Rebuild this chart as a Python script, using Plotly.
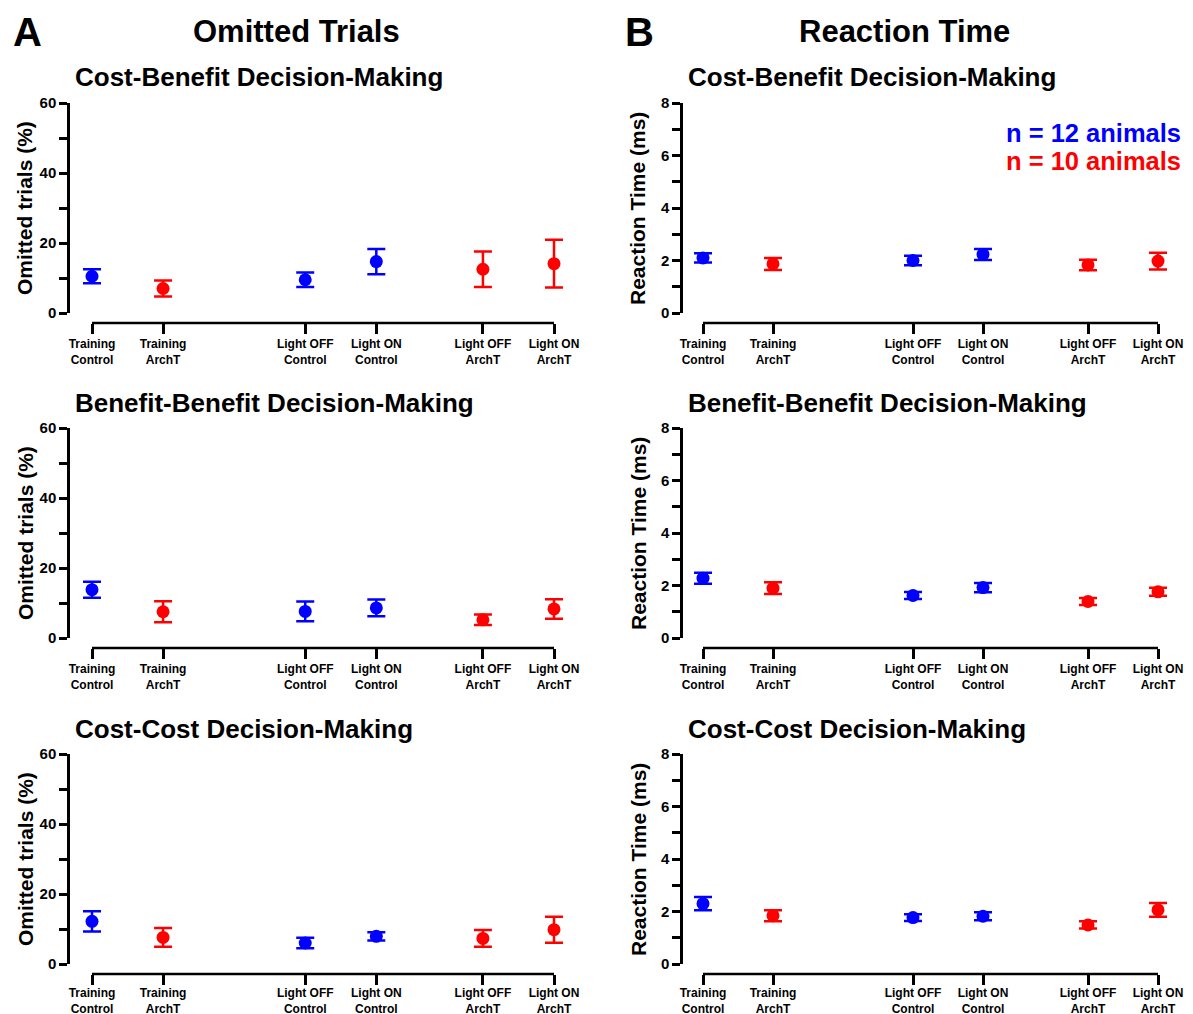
import plotly.graph_objects as go

# ---------------- data ----------------
categories = ["Training<br>Control", "Training<br>ArchT", "Light OFF<br>Control",
              "Light ON<br>Control", "Light OFF<br>ArchT", "Light ON<br>ArchT"]
groups = ["Control", "ArchT", "Control", "Control", "ArchT", "ArchT"]

omit_cb_mean = [10.5, 7.0, 9.5, 14.7, 12.5, 14.1]
omit_cb_sem = [2.0, 2.3, 2.1, 3.6, 5.1, 6.8]
omit_bb_mean = [13.8, 7.5, 7.6, 8.6, 5.2, 8.3]
omit_bb_sem = [2.3, 3.0, 2.8, 2.4, 1.5, 2.8]
omit_cc_mean = [12.2, 7.6, 6.0, 7.9, 7.3, 9.8]
omit_cc_sem = [2.9, 2.7, 1.5, 1.2, 2.4, 3.7]

rt_cb_mean = [2.10, 1.87, 2.00, 2.23, 1.83, 1.98]
rt_cb_sem = [0.18, 0.23, 0.18, 0.21, 0.20, 0.32]
rt_bb_mean = [2.28, 1.90, 1.62, 1.92, 1.39, 1.76]
rt_bb_sem = [0.21, 0.22, 0.13, 0.18, 0.13, 0.15]
rt_cc_mean = [2.30, 1.84, 1.77, 1.82, 1.49, 2.06]
rt_cc_sem = [0.25, 0.21, 0.13, 0.15, 0.14, 0.26]

row_titles = ["Cost-Benefit Decision-Making", "Benefit-Benefit Decision-Making",
              "Cost-Cost Decision-Making"]
omit_ticks = [0, 10, 20, 30, 40, 50, 60]
rt_ticks = [0, 1, 2, 3, 4, 5, 6, 7, 8]

# ---------------- layout helpers ----------------
PAGE_W, PAGE_H = 1193, 1014
BODY = 8  # default page margin in front of the plot div
W, H = PAGE_W - BODY, PAGE_H - BODY
FONT = "Arial, Liberation Sans, Helvetica, sans-serif"
colors = {"Control": "#0000FF", "ArchT": "#FF0000"}
positions = [0, 1, 3, 4, 5.5, 6.5]  # category slots (gaps between blocks)


def px(x):
    return (x - BODY) / W


def py(y):
    return 1 - (y - BODY) / H


cols = [
    dict(yaxis_px=70, first_px=92, last_px=554, right_px=576,
         means=[omit_cb_mean, omit_bb_mean, omit_cc_mean],
         sems=[omit_cb_sem, omit_bb_sem, omit_cc_sem], ymax=60, ticks=omit_ticks, lab_every=20,
         ytitle="Omitted trials (%)", ytitle_x=25),
    dict(yaxis_px=683, first_px=703, last_px=1158, right_px=1180,
         means=[rt_cb_mean, rt_bb_mean, rt_cc_mean],
         sems=[rt_cb_sem, rt_bb_sem, rt_cc_sem], ymax=8, ticks=rt_ticks, lab_every=2,
         ytitle="Reaction Time (ms)", ytitle_x=638),
]
rows = [dict(top=103, bottom=313, xline=323, title_y=77, standoff=0),
        dict(top=428, bottom=638, xline=648, title_y=403, standoff=0),
        dict(top=754, bottom=964, xline=974, title_y=729, standoff=-2)]

fig = go.Figure()
layout = dict(width=W, height=H, margin=dict(l=0, r=0, t=0, b=0, pad=0, autoexpand=False),
              autosize=False, paper_bgcolor="white", plot_bgcolor="white", showlegend=False,
              font=dict(family=FONT, color="black"))
annotations = []
shapes = []

k = 0
for ci, c in enumerate(cols):
    unit = (c["last_px"] - c["first_px"]) / (positions[-1] - positions[0])
    r0 = positions[0] - (c["first_px"] - c["yaxis_px"]) / unit
    r1 = positions[0] + (c["right_px"] - c["first_px"]) / unit
    for ri, r in enumerate(rows):
        k += 1
        xa = "x" if k == 1 else f"x{k}"
        ya = "y" if k == 1 else f"y{k}"
        means = c["means"][ri]
        sems = c["sems"][ri]
        for g in ["Control", "ArchT"]:
            idx = [i for i, gg in enumerate(groups) if gg == g]
            fig.add_trace(go.Scatter(
                x=[positions[i] for i in idx], y=[means[i] for i in idx],
                mode="markers", xaxis=xa, yaxis=ya,
                marker=dict(color=colors[g], size=13),
                error_y=dict(type="data", array=[sems[i] for i in idx], color=colors[g],
                             thickness=2.5, width=9),
                cliponaxis=False))
        layout["xaxis" if k == 1 else f"xaxis{k}"] = dict(
            domain=[px(c["yaxis_px"]), px(c["right_px"])], range=[r0, r1],
            anchor="free", position=py(r["xline"]), automargin=False,
            showline=False, showgrid=False, zeroline=False,
            tickmode="array", tickvals=positions, ticktext=categories,
            ticks="outside", ticklen=10, tickwidth=2.5, tickcolor="black",
            ticklabeloverflow="allow", ticklabelstandoff=r["standoff"],
            tickfont=dict(family=FONT, size=12, color="black", weight="bold"),
            fixedrange=True)
        ttext = [str(t) if t % c["lab_every"] == 0 else "" for t in c["ticks"]]
        layout["yaxis" if k == 1 else f"yaxis{k}"] = dict(
            domain=[py(r["bottom"]), py(r["top"])], range=[0, c["ymax"]],
            anchor=xa, automargin=False, showline=True, linewidth=2.5, linecolor="black",
            showgrid=False, zeroline=False,
            tickmode="array", tickvals=c["ticks"], ticktext=ttext,
            ticks="outside", ticklen=8, tickwidth=2.5, tickcolor="black",
            ticklabeloverflow="allow",
            tickfont=dict(family=FONT, size=15, color="black", weight="bold"),
            fixedrange=True)
        # x-axis baseline spanning only the category range
        shapes.append(dict(type="line", xref=xa, yref="paper",
                           x0=positions[0], x1=positions[-1],
                           y0=py(r["xline"]), y1=py(r["xline"]),
                           line=dict(color="black", width=2.5)))
        # y-axis title
        annotations.append(dict(text=c["ytitle"], xref="paper", yref="paper",
                                x=px(c["ytitle_x"]), y=py((r["top"] + r["bottom"]) / 2),
                                textangle=-90, showarrow=False, xanchor="center", yanchor="middle",
                                font=dict(family=FONT, size=21, color="black", weight="bold")))
        # row title
        annotations.append(dict(text=row_titles[ri], xref="paper", yref="paper",
                                x=px(c["yaxis_px"] + 3), y=py(r["title_y"]),
                                showarrow=False, xanchor="left", yanchor="middle",
                                font=dict(family=FONT, size=26, color="black", weight="bold")))

# panel letters and column titles
extra = [
    dict(text="A", x=px(11), y=py(32), xanchor="left", yanchor="middle",
         font=dict(size=40, weight="bold")),
    dict(text="B", x=px(623), y=py(32), xanchor="left", yanchor="middle",
         font=dict(size=40, weight="bold")),
    dict(text="Omitted Trials", x=px(296), y=py(32), xanchor="center", yanchor="middle",
         font=dict(size=31, weight="bold")),
    dict(text="Reaction Time", x=px(904), y=py(32), xanchor="center", yanchor="middle",
         font=dict(size=31, weight="bold")),
    dict(text="n = 12 animals", x=px(1183), y=py(133), xanchor="right", yanchor="middle",
         font=dict(size=25.5, weight="bold", color=colors["Control"])),
    dict(text="n = 10 animals", x=px(1183), y=py(161), xanchor="right", yanchor="middle",
         font=dict(size=25.5, weight="bold", color=colors["ArchT"])),
]
for a in extra:
    a.update(xref="paper", yref="paper", showarrow=False)
    a["font"].setdefault("color", "black")
    a["font"]["family"] = FONT
annotations += extra

layout["annotations"] = annotations
layout["shapes"] = shapes
fig.update_layout(**layout)
fig.write_html("out.html")
